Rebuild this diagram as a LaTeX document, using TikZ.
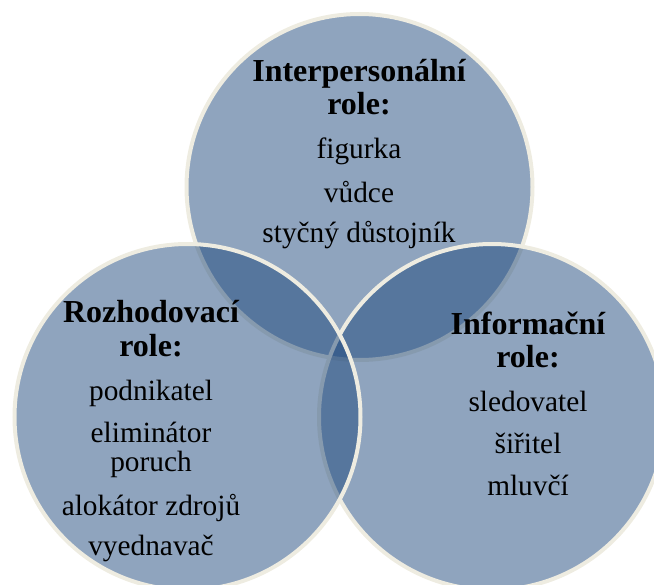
\documentclass[tikz,border=0pt]{standalone}
\usepackage{fontspec}
\setmainfont{Liberation Serif}
\usepackage{xcolor}
\usepackage{tikz}

\definecolor{rolefill}{HTML}{1F497D}
\definecolor{roleedge}{HTML}{EEECE1}

\tikzset{
  role/.style={circle, draw=roleedge, line width=3pt, fill=rolefill,
    fill opacity=0.5, minimum size=259.5pt, inner sep=0pt},
  head/.style={font=\bfseries\fontsize{24}{26}\selectfont, anchor=base, inner sep=0pt},
  item/.style={font=\fontsize{22}{24}\selectfont, anchor=base, inner sep=0pt}
}

\begin{document}
\begin{tikzpicture}[x=0.75pt, y=-0.75pt]
            \useasboundingbox (0, 0) rectangle (654, 585);
            \clip (0, 0) rectangle (654, 585);

            % the three circles, top one at the back
            \node[role] (ip) at (359.5, 187) {};
            \node[role] (inf) at (492, 417) {};
            \node[role] (rz) at (187.5, 417) {};

            % interpersonal roles
            \node[head] (ipH1) at (359, 82) {Interpersonální};
            \node[head] (ipH2) at (359, 115) {role:};
            \node[item] (ip1) at (359, 159) {figurka};
            \node[item] (ip2) at (359, 202) {vůdce};
            \node[item] (ip3) at (359, 243) {styčný důstojník};

            % decision roles
            \node[head] (rzH1) at (151, 322) {Rozhodovací};
            \node[head] (rzH2) at (151, 356) {role:};
            \node[item] (rz1) at (151, 400) {podnikatel};
            \node[item] (rz2) at (151, 442) {eliminátor};
            \node[item] (rz2b) at (151, 471) {poruch};
            \node[item] (rz3) at (151, 515) {alokátor zdrojů};
            \node[item] (rz4) at (151, 555) {vyednavač};

            % informational roles
            \node[head] (infH1) at (528, 334) {Informační};
            \node[head] (infH2) at (528, 367) {role:};
            \node[item] (inf1) at (528, 411) {sledovatel};
            \node[item] (inf2) at (528, 453) {šiřitel};
            \node[item] (inf3) at (528, 495) {mluvčí};
        \end{tikzpicture}
\end{document}
